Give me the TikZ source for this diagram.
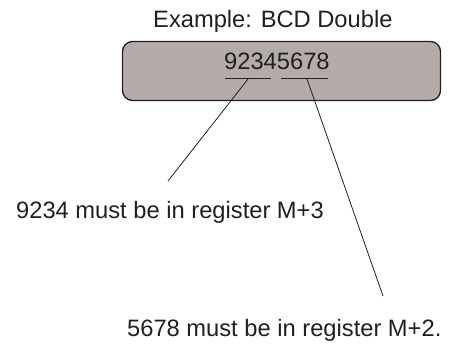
\documentclass[tikz,border=0pt]{standalone}
\usepackage{fontspec}
\setmainfont{Liberation Sans}
\usetikzlibrary{positioning}
\definecolor{boxgray}{HTML}{B4ACA8}
\definecolor{ink}{HTML}{231F20}
\begin{document}
\begin{tikzpicture}[x=1pt,y=-1pt]
\tikzstyle{every node}+=[inner sep=0pt, text=ink, font=\fontsize{23.7}{28}\selectfont]
\tikzstyle{lead}=[ink, line width=0.8pt]
\useasboundingbox (0,0) rectangle (449,349);
\node (reg) [draw=ink, line width=1.3pt, fill=boxgray, rounded corners=10pt,
  minimum width=318pt, minimum height=59pt] at (281.5,71) {};
\node (title) [anchor=base west] at (153,27) {Example: BCD Double};
\node (digits) [anchor=base west] at (224,69) {92345678};
\draw [lead] (225,78) -- (271,78);
\draw [lead] (281,78) -- (328,78);
\coordinate (hi) at (248,79);
\coordinate (lo) at (307,79);
\coordinate (hiend) at (168,181);
\coordinate (loend) at (383,296);
\node (hitext) [anchor=base west] at (16,218) {9234 must be in register M+3};
\node (lotext) [anchor=base west] at (127,336) {5678 must be in register M+2.};
\draw [lead] (hi) -- (hiend);
\draw [lead] (lo) -- (loend);
\end{tikzpicture}
\end{document}
